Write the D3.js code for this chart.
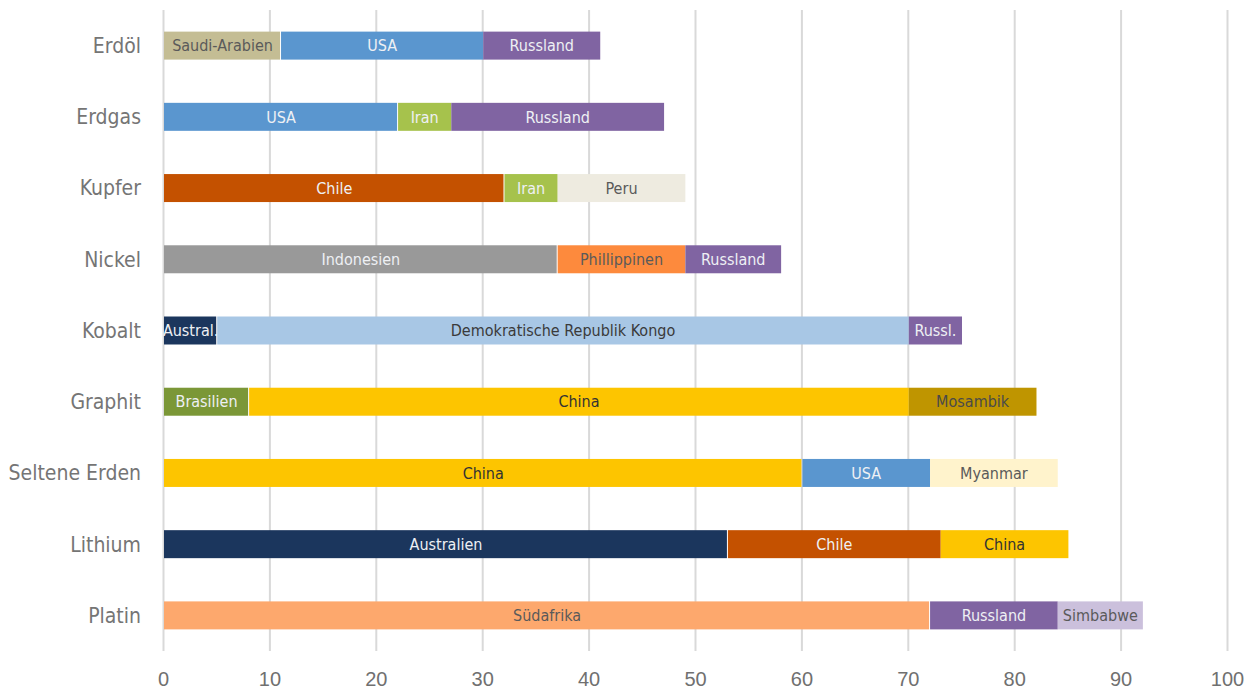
<!DOCTYPE html>
<html>
<head>
<meta charset="utf-8">
<script src="https://cdn.jsdelivr.net/npm/d3@7"></script>
<style>
  body { margin: 0; background: #fff; }
  svg { display: block; font-family: "DejaVu Sans Condensed", "DejaVu Sans", sans-serif; }
</style>
</head>
<body>
<svg></svg>
<script>
var minerals = ['Erdöl', 'Erdgas', 'Kupfer', 'Nickel', 'Kobalt', 'Graphit', 'Seltene Erden', 'Lithium', 'Platin'];

var countries = [
  ['Saudi-Arabien', 'USA', 'Russland'],
  ['USA', 'Iran', 'Russland'],
  ['Chile', 'Iran', 'Peru'],
  ['Indonesien', 'Phillippinen', 'Russland'],
  ['Austral.', 'Demokratische Republik Kongo', 'Russl.'],
  ['Brasilien', 'China', 'Mosambik'],
  ['China', 'USA', 'Myanmar'],
  ['Australien', 'Chile', 'China'],
  ['Südafrika', 'Russland', 'Simbabwe']
];

var shares = [
  [11, 19, 11],
  [22, 5, 20],
  [32, 5, 12],
  [37, 12, 9],
  [5, 65, 5],
  [8, 62, 12],
  [60, 12, 12],
  [53, 20, 12],
  [72, 12, 8]
];

var xTicks = [0, 10, 20, 30, 40, 50, 60, 70, 80, 90, 100];

// colour per country: [fill, text]
var light = '#eef0f4', dark = '#5a5a5a';
var colors = {
  'Saudi-Arabien': ['#c4bd94', dark],
  'USA': ['#5a96cf', light],
  'Russland': ['#8064a2', light],
  'Russl.': ['#8064a2', light],
  'Iran': ['#a6c24c', light],
  'Chile': ['#c45100', light],
  'Peru': ['#eeebe0', dark],
  'Indonesien': ['#999999', light],
  'Phillippinen': ['#fd8a3d', dark],
  'Austral.': ['#1b365d', light],
  'Australien': ['#1b365d', light],
  'Demokratische Republik Kongo': ['#a8c7e5', '#3a3a3a'],
  'Brasilien': ['#7b9737', light],
  'China': ['#fdc500', '#333333'],
  'Mosambik': ['#bf9500', '#4a4a4a'],
  'Myanmar': ['#fff3cc', dark],
  'Südafrika': ['#fda86d', dark],
  'Simbabwe': ['#cbc0dc', dark]
};

var width = 1253;
var height = 693;
var margin = {top: 10, right: 26, bottom: 42, left: 163};

var svg = d3.select('svg')
    .attr('width', width)
    .attr('height', height);

var x = d3.scaleLinear()
    .domain([0, 100])
    .range([margin.left, width - margin.right]);

var y = d3.scaleBand()
    .domain(minerals)
    .range([margin.top, height - margin.bottom])
    .paddingInner(0.607)
    .paddingOuter(0.3035);

// grid + x axis
var xAxis = svg.append('g')
    .attr('transform', 'translate(0,' + (height - margin.bottom) + ')')
    .call(d3.axisBottom(x)
      .tickValues(xTicks)
      .tickSize(-(height - margin.bottom - margin.top))
      .tickPadding(21));

xAxis.select('.domain').remove();
xAxis.selectAll('.tick line')
    .attr('stroke', '#d9d9d9')
    .attr('stroke-width', 2);
xAxis.selectAll('.tick text')
    .attr('fill', '#707070')
    .style('font-size', '20px');

// category labels
svg.append('g')
  .selectAll('text')
  .data(minerals)
  .enter()
  .append('text')
    .attr('x', margin.left - 22)
    .attr('y', d => y(d) + y.bandwidth() / 2)
    .attr('dy', '0.35em')
    .attr('text-anchor', 'end')
    .attr('fill', '#757575')
    .style('font-size', '21px')
    .text(d => d);

// segments
var segs = [];
minerals.forEach(function(m, i) {
  var start = 0;
  countries[i].forEach(function(c, j) {
    segs.push({mineral: m, country: c, x0: start, x1: start + shares[i][j]});
    start += shares[i][j];
  });
});

var seg = svg.append('g')
  .selectAll('.seg')
  .data(segs)
  .enter()
  .append('g')
    .classed('seg', true);

seg.append('rect')
    .attr('x', d => x(d.x0) + 1)
    .attr('y', d => y(d.mineral))
    .attr('width', d => x(d.x1) - x(d.x0) - (d.x0 === 0 ? 1 : 0))
    .attr('height', y.bandwidth())
    .attr('fill', d => colors[d.country][0]);

seg.append('text')
    .attr('x', d => (x(d.x0) + x(d.x1)) / 2 + 1)
    .attr('y', d => y(d.mineral) + y.bandwidth() / 2)
    .attr('dy', '0.36em')
    .attr('text-anchor', 'middle')
    .attr('fill', d => colors[d.country][1])
    .style('font-size', '16px')
    .text(d => d.country);
</script>
</body>
</html>
